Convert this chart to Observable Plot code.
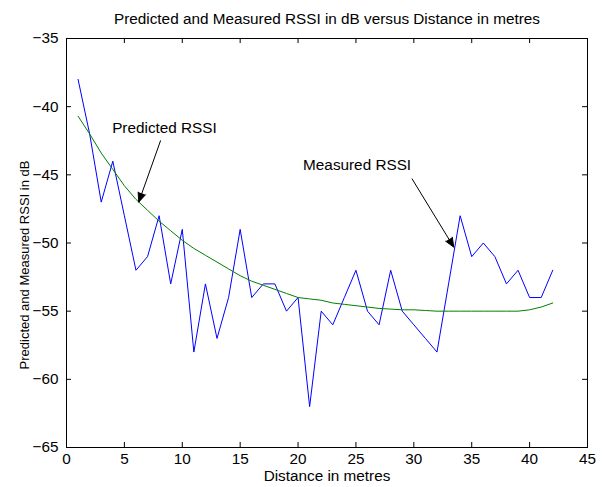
<!DOCTYPE html>
<html>
<head>
<meta charset="utf-8">
<script src="https://cdn.jsdelivr.net/npm/d3@7"></script>
<script src="https://cdn.jsdelivr.net/npm/@observablehq/plot@0.6"></script>
<style>
  html, body { margin: 0; padding: 0; background: #fff; }
  svg { display: block; }
</style>
</head>
<body>
<div id="chart"></div>
<script>
const distance = [1,2,3,4,5,6,7,8,9,10,11,12,13,14,15,16,17,18,19,20,21,22,23,24,25,26,27,28,29,30,31,32,33,34,35,36,37,38,39,40,41,42];
const measured = [-38,-42,-47,-44,-48,-52,-51,-48,-53,-49,-58,-53,-57,-54,-49,-54,-53,-53,-55,-54,-62,-55,-56,-54,-52,-55,-56,-52,-55,-56,-57,-58,-53,-48,-51,-50,-51,-53,-52,-54,-54,-52];
const predicted = [-40.7,-42.0,-43.4,-44.6,-45.8,-46.8,-47.6,-48.4,-49.1,-49.8,-50.4,-50.9,-51.4,-51.9,-52.4,-52.8,-53.1,-53.4,-53.7,-54.0,-54.1,-54.2,-54.4,-54.5,-54.6,-54.7,-54.8,-54.85,-54.9,-54.9,-54.95,-55.0,-55.0,-55.0,-55.0,-55.0,-55.0,-55.0,-55.0,-54.9,-54.7,-54.4];
const xTicks = [0,5,10,15,20,25,30,35,40,45];
const yTicks = [-65,-60,-55,-50,-45,-40,-35];
const titleText = "Predicted and Measured RSSI in dB versus Distance in metres";
const xLabel = "Distance in metres";
const yLabel = "Predicted and Measured RSSI in dB";
const annPredicted = "Predicted RSSI";
const annMeasured = "Measured RSSI";

const measuredData = distance.map((d, i) => ({d, v: measured[i]}));
const predictedData = distance.map((d, i) => ({d, v: predicted[i]}));

const font = "'Liberation Sans', Arial, Helvetica, sans-serif";
const fs = 15.3;

const chart = Plot.plot({
  width: 603,
  height: 487,
  marginLeft: 66,
  marginRight: 16,
  marginTop: 38,
  marginBottom: 40,
  style: {fontFamily: font, fontSize: fs + "px", background: "#fff", color: "#000"},
  x: {domain: [0, 45], ticks: xTicks, label: null},
  y: {domain: [-65, -35], ticks: yTicks, label: null},
  marks: [
    Plot.axisX(xTicks, {tickSize: 0, tickPadding: 6, fontSize: fs, label: null}),
    Plot.axisY(yTicks, {tickSize: 0, tickPadding: 8, fontSize: fs, label: null}),
    // inward ticks (MATLAB style) on all four sides
    Plot.ruleX(xTicks, {x: d => d, y1: -65, y2: -65 + 0.37, stroke: "#000"}),
    Plot.ruleX(xTicks, {x: d => d, y1: -35, y2: -35 - 0.37, stroke: "#000"}),
    Plot.ruleY(yTicks, {y: d => d, x1: 0, x2: 0.43, stroke: "#000"}),
    Plot.ruleY(yTicks, {y: d => d, x1: 45, x2: 45 - 0.43, stroke: "#000"}),
    Plot.line(measuredData, {x: "d", y: "v", stroke: "#0000ff", strokeWidth: 1}),
    Plot.line(predictedData, {x: "d", y: "v", stroke: "#008000", strokeWidth: 1}),
    Plot.frame({stroke: "#000", strokeWidth: 1}),
    // annotations
    Plot.text([annPredicted], {x: 8.46, y: -41.6, text: d => d, fontSize: fs, fill: "#000"}),
    Plot.arrow([annPredicted], {x1: 8.12, y1: -42.5, x2: 6.24, y2: -47.0, stroke: "#000", fill: "#000", strokeWidth: 1, headLength: 15, headAngle: 46, inset: 0}),
    Plot.text([annMeasured], {x: 25.1, y: -44.25, text: d => d, fontSize: fs, fill: "#000"}),
    Plot.arrow([annMeasured], {x1: 29.85, y1: -45.3, x2: 33.45, y2: -50.3, stroke: "#000", fill: "#000", strokeWidth: 1, headLength: 15, headAngle: 46, inset: 0}),
    // titles
    Plot.text([titleText], {frameAnchor: "top", dy: -25, text: d => d, fontSize: fs, fill: "#000"}),
    Plot.text([xLabel], {frameAnchor: "bottom", dy: 33, text: d => d, fontSize: fs, fill: "#000"}),
    Plot.text([yLabel], {frameAnchor: "left", dx: -42, dy: 22, rotate: -90, textAnchor: "middle", text: d => d, fontSize: 13, fill: "#000"})
  ]
});
document.getElementById("chart").appendChild(chart);
</script>
</body>
</html>
